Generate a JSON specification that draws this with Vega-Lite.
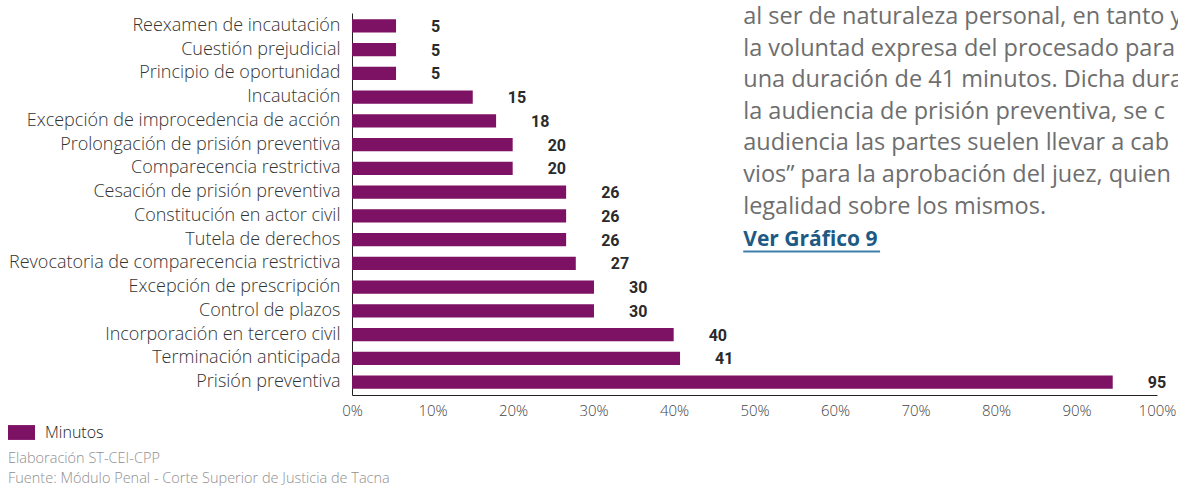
{
  "$schema": "https://vega.github.io/schema/vega-lite/v6.json",
  "width": 805,
  "height": 382,
  "autosize": "none",
  "padding": {"left": 352, "top": 13, "right": 21, "bottom": 91},
  "config": {"view": {"stroke": null}, "font": "Open Sans"},
  "title": {
    "text": ["Elaboración ST-CEI-CPP", "Fuente: Módulo Penal - Corte Superior de Justicia de Tacna"],
    "orient": "bottom",
    "anchor": "start",
    "frame": "group",
    "dx": -344,
    "offset": 11,
    "fontSize": 14.5,
    "fontWeight": 300,
    "color": "#8f8f8f",
    "lineHeight": 20,
    "font": "Open Sans"
  },
  "resolve": {"scale": {"y": "independent"}},
  "layer": [
    {
      "data": {
        "values": [
          {"tipo": "Reexamen de incautación", "pct": 5.47, "minutos": 5, "serie": "Minutos"},
          {"tipo": "Cuestión prejudicial", "pct": 5.47, "minutos": 5, "serie": "Minutos"},
          {"tipo": "Principio de oportunidad", "pct": 5.47, "minutos": 5, "serie": "Minutos"},
          {"tipo": "Incautación", "pct": 15.0, "minutos": 15, "serie": "Minutos"},
          {"tipo": "Excepción de improcedencia de acción", "pct": 17.9, "minutos": 18, "serie": "Minutos"},
          {"tipo": "Prolongación de prisión preventiva", "pct": 19.96, "minutos": 20, "serie": "Minutos"},
          {"tipo": "Comparecencia restrictiva", "pct": 19.96, "minutos": 20, "serie": "Minutos"},
          {"tipo": "Cesación de prisión preventiva", "pct": 26.6, "minutos": 26, "serie": "Minutos"},
          {"tipo": "Constitución en actor civil", "pct": 26.6, "minutos": 26, "serie": "Minutos"},
          {"tipo": "Tutela de derechos", "pct": 26.6, "minutos": 26, "serie": "Minutos"},
          {"tipo": "Revocatoria de comparecencia restrictiva", "pct": 27.8, "minutos": 27, "serie": "Minutos"},
          {"tipo": "Excepción de prescripción", "pct": 30.06, "minutos": 30, "serie": "Minutos"},
          {"tipo": "Control de plazos", "pct": 30.06, "minutos": 30, "serie": "Minutos"},
          {"tipo": "Incorporación en tercero civil", "pct": 39.96, "minutos": 40, "serie": "Minutos"},
          {"tipo": "Terminación anticipada", "pct": 40.75, "minutos": 41, "serie": "Minutos"},
          {"tipo": "Prisión preventiva", "pct": 94.5, "minutos": 95, "serie": "Minutos"}
        ]
      },
      "encoding": {
        "y": {
          "field": "tipo",
          "type": "nominal",
          "sort": null,
          "title": null,
          "scale": {"paddingInner": 0.443, "paddingOuter": 0.266},
          "axis": {
            "ticks": false,
            "domainColor": "#222222",
            "domainWidth": 1,
            "labelFontSize": 18,
            "labelFontWeight": 300,
            "labelColor": "#333333",
            "labelFont": "Open Sans",
            "labelPadding": 12,
            "labelLimit": 400
          }
        }
      },
      "layer": [
        {
          "mark": {"type": "bar"},
          "encoding": {
            "x": {
              "field": "pct",
              "type": "quantitative",
              "title": null,
              "scale": {"domain": [0, 100], "nice": false},
              "axis": {
                "values": [0, 10, 20, 30, 40, 50, 60, 70, 80, 90, 100],
                "labelExpr": "datum.value + '%'",
                "ticks": false,
                "grid": false,
                "domainColor": "#222222",
                "domainWidth": 1,
                "labelFontSize": 15,
                "labelFontWeight": 300,
                "labelColor": "#444444",
                "labelFont": "Open Sans",
                "labelPadding": 8,
                "labelFlush": false
              }
            },
            "color": {
              "field": "serie",
              "type": "nominal",
              "scale": {"range": ["#7d1163"]},
              "legend": {
                "title": null,
                "orient": "none",
                "legendX": -344,
                "legendY": 406,
                "symbolType": "M-1,-0.55L1,-0.55L1,0.55L-1,0.55Z",
                "symbolSize": 729,
                "symbolStrokeWidth": 0,
                "labelFontSize": 16,
                "labelFontWeight": 300,
                "labelColor": "#222222",
                "labelFont": "Open Sans",
                "labelOffset": 10
              }
            }
          }
        },
        {
          "mark": {"type": "text", "align": "left", "baseline": "middle", "dx": 35, "dy": 1, "font": "Roboto", "fontWeight": "bold", "fontSize": 16, "color": "#2a2a2a"},
          "encoding": {
            "x": {"field": "pct", "type": "quantitative"},
            "text": {"field": "minutos", "type": "quantitative"}
          }
        }
      ]
    },
    {
      "layer": [
        {
          "data": {
            "values": [
              {"linea": 1, "texto": "al ser de naturaleza personal, en tanto y"},
              {"linea": 2, "texto": "la voluntad expresa del procesado para"},
              {"linea": 3, "texto": "una duración de 41 minutos. Dicha dura"},
              {"linea": 4, "texto": "la audiencia de prisión preventiva, se c"},
              {"linea": 5, "texto": "audiencia las partes suelen llevar a cab"},
              {"linea": 6, "texto": "vios” para la aprobación del juez, quien"},
              {"linea": 7, "texto": "legalidad sobre los mismos."}
            ]
          },
          "mark": {"type": "text", "align": "left", "baseline": "middle", "font": "Open Sans", "fontSize": 23.5, "color": "#6e6e6e"},
          "encoding": {
            "x": {"datum": 48.6, "type": "quantitative"},
            "y": {"field": "linea", "type": "quantitative", "scale": {"domain": [0.873, 12.96], "reverse": true, "nice": false, "zero": false}, "axis": null},
            "text": {"field": "texto", "type": "nominal"}
          }
        },
        {
          "data": {"values": [{"linea": 8, "texto": "Ver Gráfico 9"}]},
          "mark": {"type": "text", "align": "left", "baseline": "middle", "font": "Open Sans", "fontSize": 21, "fontWeight": "bold", "color": "#1d5a84", "dy": 2},
          "encoding": {
            "x": {"datum": 48.6, "type": "quantitative"},
            "y": {"field": "linea", "type": "quantitative"},
            "text": {"field": "texto", "type": "nominal"}
          }
        },
        {
          "data": {"values": [{"linea": 8.42}]},
          "mark": {"type": "rule", "color": "#3f7fad", "strokeWidth": 2},
          "encoding": {
            "x": {"datum": 48.6, "type": "quantitative"},
            "x2": {"datum": 65.6},
            "y": {"field": "linea", "type": "quantitative"}
          }
        }
      ]
    }
  ]
}
